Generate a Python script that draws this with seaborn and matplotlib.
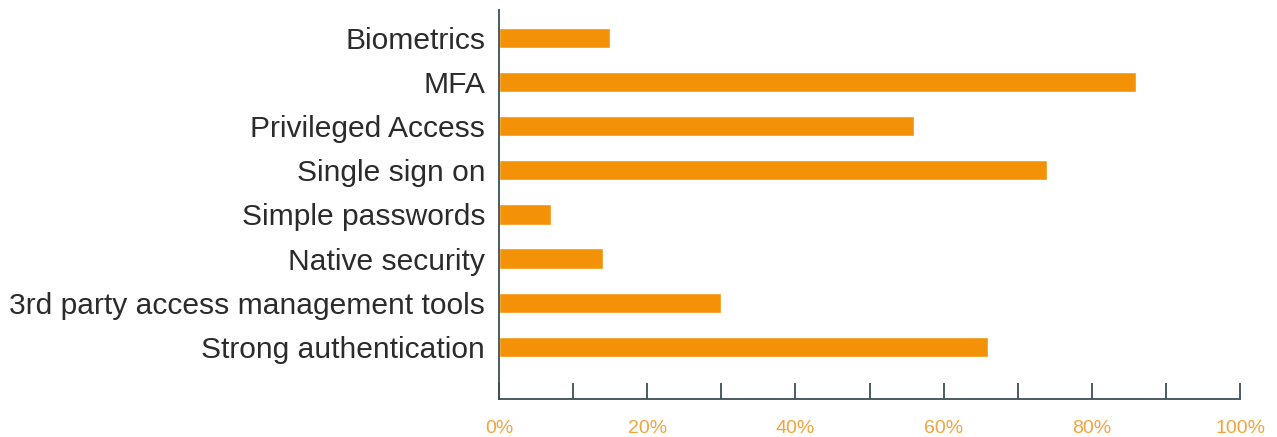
import matplotlib
matplotlib.use("Agg")
import matplotlib.pyplot as plt
import seaborn as sns
import pandas as pd

categories = [
    "Biometrics",
    "MFA",
    "Privileged Access",
    "Single sign on",
    "Simple passwords",
    "Native security",
    "3rd party access management tools",
    "Strong authentication",
]
values = [15, 86, 56, 74, 7, 14, 30, 66]
tick_values = [0, 20, 40, 60, 80, 100]
tick_labels = ["0%", "20%", "40%", "60%", "80%", "100%"]

df = pd.DataFrame({"category": categories, "value": values})

sns.set_theme(style="white")
plt.rcParams["font.family"] = ["Liberation Sans", "DejaVu Sans"]

fig = plt.figure(figsize=(12.77, 4.37), dpi=100)
ax = fig.add_axes([0.3908, 0.087, 0.5803, 0.890])

sns.barplot(data=df, x="value", y="category", color="#F39207",
            saturation=1, width=0.46, ax=ax)

ax.set_xlim(0, 100)
ax.set_ylim(8.18, -0.63)
ax.set_xlabel("")
ax.set_ylabel("")

spine_color = "#3B4E58"
for side in ["top", "right"]:
    ax.spines[side].set_visible(False)
for side in ["left", "bottom"]:
    ax.spines[side].set_color(spine_color)
    ax.spines[side].set_linewidth(1.3)

ax.set_xticks(tick_values)
ax.set_xticklabels(tick_labels)
ax.set_xticks(range(10, 100, 20), minor=True)
ax.tick_params(axis="x", which="both", bottom=True, direction="in", length=11.5,
               width=1.3, color=spine_color, pad=15, labelsize=14,
               labelcolor="#F5A33B")
ax.tick_params(axis="y", left=False, length=0, pad=10, labelsize=21.6,
               labelcolor="#2B2B2B")

fig.savefig("out.png", dpi=100)
